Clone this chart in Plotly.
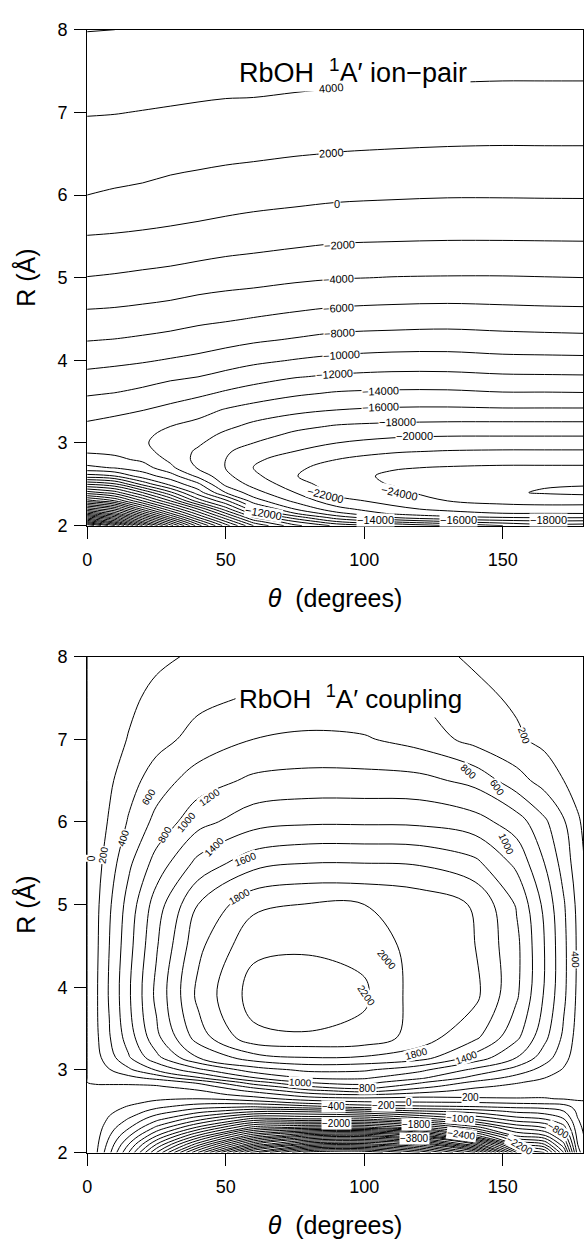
import numpy as np
import plotly.graph_objects as go

# ---------------- top panel: RbOH 1A' ion-pair potential (cm-1) ----------------
theta_top = [0, 10, 20, 30, 40, 50, 60, 75, 90, 110, 130, 150, 165, 180]
r_top = [2.0, 2.05, 2.1, 2.15, 2.2, 2.3, 2.4, 2.5, 2.6, 2.7, 2.8, 2.9, 3.0, 3.1,
         3.2, 3.4, 3.6, 3.8, 4.0, 4.25, 4.5, 5.0, 5.5, 6.0, 6.5, 7.0, 7.5, 8.0]

v_t0 = [56000, 48000, 41000, 34000, 28000, 17000, 9000, 2000, -5100, -9550, -11100, -12250, -12900, -12950,
        -12400, -11100, -9800, -8550, -7350, -5900, -4600, -2050, -50, 2000, 3050, 4100, 5050, 6050]
v_t10 = [48000, 41000, 35000, 29000, 24000, 14000, 7000, 500, -6000, -10100, -11500, -12500, -13100, -13200,
         -12900, -11450, -10050, -8800, -7550, -6050, -4700, -2200, -150, 1800, 3000, 4050, 5000, 6000]
v_t20 = [36000, 30000, 25000, 20000, 15500, 8000, 2000, -4500, -9000, -11000, -12400, -13400, -13800, -13700,
         -13300, -11950, -10500, -9150, -7800, -6300, -4900, -2400, -300, 1650, 2850, 3950, 4950, 5900]
v_t30 = [25000, 20500, 16000, 12000, 8500, 2000, -3500, -8500, -11000, -13500, -14400, -14800, -14700, -14400,
         -14000, -12550, -11100, -9650, -8150, -6600, -5150, -2600, -450, 1350, 2700, 3850, 4850, 5850]
v_t40 = [15000, 11500, 8000, 5000, 2000, -5000, -9000, -11500, -14500, -16200, -16600, -16300, -15700, -15200,
         -14600, -13300, -11600, -10000, -8500, -6950, -5550, -2900, -650, 1150, 2550, 3750, 4750, 5750]
v_t50 = [7000, 4000, 1000, -2000, -5000, -9500, -14000, -16500, -17500, -18050, -18000, -17700, -17200, -16400,
         -15600, -14150, -12300, -10600, -9050, -7300, -5800, -3150, -900, 950, 2400, 3650, 4700, 5700]
v_t60 = [0, -3000, -6000, -9000, -11200, -15000, -17200, -18600, -19500, -20050, -19700, -19000, -18000, -17200,
         -16500, -14800, -12900, -11200, -9550, -7700, -6100, -3300, -1100, 750, 2300, 3550, 4800, 6000]
v_t75 = [-5500, -8000, -11000, -14000, -16000, -18500, -20000, -21100, -21900, -21600, -20800, -20000, -19200, -18400,
         -17500, -15500, -13700, -11900, -10100, -8150, -6500, -3650, -1350, 550, 2100, 3400, 4650, 5900]
v_t90 = [-8500, -12000, -15000, -17500, -19300, -21400, -22500, -23100, -23300, -22900, -22000, -21000, -20000, -19000,
         -18200, -16000, -14200, -12300, -10500, -8600, -6850, -3900, -1600, 350, 1950, 3250, 4550, 5800]
v_t110 = [-10000, -14400, -18000, -20400, -21500, -22600, -23400, -24100, -24300, -23850, -22750, -21800, -20650, -19600,
          -18500, -16300, -14400, -12550, -10800, -8800, -7050, -4050, -1700, 220, 1850, 3150, 4400, 5650]
v_t130 = [-12000, -16000, -19500, -21300, -22500, -24000, -25000, -25250, -24900, -24150, -23150, -22100, -20900, -19800,
          -18650, -16350, -14400, -12550, -10800, -8900, -7150, -4100, -1770, 130, 1770, 3100, 4350, 5600]
v_t150 = [-14000, -17200, -20000, -22000, -22900, -24700, -25750, -25600, -25000, -24300, -23300, -22200, -21000, -19800,
          -18700, -16250, -14150, -12300, -10550, -8700, -7000, -4100, -1770, 130, 1740, 3050, 4300, 5550]
v_t165 = [-15200, -17600, -20200, -22050, -23000, -24950, -26150, -25850, -25100, -24300, -23300, -22200, -21000, -19800,
          -18700, -16250, -14150, -12250, -10500, -8600, -6900, -4050, -1750, 150, 1750, 3050, 4300, 5500]
v_t180 = [-15000, -17500, -20200, -22100, -23000, -24900, -26400, -25900, -25100, -24300, -23300, -22200, -21000, -19800,
          -18700, -16250, -14100, -12200, -10450, -8500, -6850, -4000, -1730, 160, 1750, 3050, 4300, 5500]

# ---------------- bottom panel: RbOH 1A' coupling (cm-1) ----------------
theta_bot = [0, 3, 8, 15, 25, 40, 60, 80, 100, 120, 140, 155, 165, 172, 177, 180]
r_bot = [2.0, 2.1, 2.2, 2.3, 2.4, 2.5, 2.55, 2.6, 2.65, 2.7, 2.75, 2.8, 2.85, 2.9,
         3.0, 3.15, 3.4, 3.9, 4.5, 5.0, 5.5, 6.0, 6.5, 7.0, 7.5, 8.0]

w_r200 = [0, -150, -550, -1200, -2200, -3600, -5500, -6500, -6600, -6000, -5000, -3000, -2600, -1600, -300, 0]
w_r210 = [0, -130, -470, -1000, -1800, -2900, -4400, -5200, -5300, -4900, -3800, -2200, -2000, -1250, -200, 20]
w_r220 = [0, -110, -390, -780, -1400, -2250, -3400, -4000, -4100, -3600, -2500, -1600, -1450, -950, -120, 40]
w_r230 = [0, -90, -310, -580, -1050, -1650, -2500, -2700, -2700, -2300, -1700, -1150, -1000, -680, -60, 60]
w_r240 = [0, -70, -230, -420, -750, -1150, -1700, -1650, -1650, -1350, -1000, -700, -620, -420, -10, 80]
w_r250 = [0, -50, -160, -280, -480, -720, -950, -950, -800, -620, -500, -350, -300, -200, 40, 100]
w_r255 = [0, -40, -125, -220, -360, -530, -620, -500, -330, -260, -220, -170, -150, -90, 70, 120]
w_r260 = [0, -30, -90, -160, -250, -350, -330, -160, -60, -30, -20, 20, 40, 60, 170, 180]
w_r265 = [0, -20, -60, -110, -170, -200, -80, 100, 150, 120, 180, 190, 190, 210, 220, 220]
w_r270 = [0, -15, -40, -70, -110, -90, 80, 320, 400, 320, 250, 240, 230, 230, 225, 220]
w_r275 = [0, -10, -25, -40, -60, -10, 260, 560, 700, 500, 340, 290, 260, 245, 235, 225]
w_r280 = [0, -3, -8, -15, -15, 80, 480, 800, 920, 680, 440, 350, 300, 270, 245, 230]
w_r285 = [0, 3, 10, 20, 60, 250, 720, 1020, 1080, 830, 560, 420, 340, 295, 255, 235]
w_r290 = [0, 20, 60, 130, 260, 560, 980, 1200, 1220, 1030, 720, 520, 400, 320, 260, 220]
w_r300 = [0, 70, 190, 360, 620, 950, 1300, 1450, 1430, 1250, 950, 720, 520, 380, 260, 190]
w_r315 = [0, 120, 315, 580, 945, 1400, 1720, 1800, 1780, 1700, 1330, 1000, 700, 470, 290, 200]
w_r340 = [0, 150, 385, 700, 1150, 1700, 2150, 2180, 2150, 1900, 1650, 1250, 860, 560, 320, 210]
w_r390 = [0, 160, 420, 770, 1250, 1850, 2290, 2330, 2230, 1900, 1850, 1430, 980, 640, 360, 230]
w_r450 = [0, 150, 400, 730, 1180, 1750, 2150, 2170, 2150, 1900, 1800, 1450, 1000, 650, 370, 240]
w_r500 = [0, 140, 370, 680, 1100, 1600, 1950, 2010, 2000, 1930, 1780, 1380, 950, 620, 350, 220]
w_r550 = [0, 110, 300, 560, 880, 1260, 1530, 1600, 1600, 1580, 1450, 1150, 800, 520, 290, 180]
w_r600 = [0, 80, 220, 420, 660, 930, 1120, 1170, 1170, 1160, 1080, 900, 640, 420, 230, 140]
w_r650 = [0, 60, 165, 320, 500, 700, 840, 870, 870, 860, 740, 480, 320, 200, 110, 70]
w_r700 = [0, 45, 120, 210, 330, 470, 600, 640, 620, 520, 330, 230, 150, 95, 55, 35]
w_r750 = [0, 30, 85, 160, 250, 350, 420, 450, 440, 390, 250, 170, 110, 70, 40, 25]
w_r800 = [0, 20, 55, 100, 160, 230, 285, 300, 295, 270, 170, 110, 70, 45, 25, 15]

x_ticks = [0, 50, 100, 150]
y_ticks = [2, 3, 4, 5, 6, 7, 8]

# contour labels: (theta, R, text, angle)
top_labels = [
    (88, 7.29, "4000", -5), (88, 6.51, "2000", -4), (90, 5.89, "0", 0),
    (91, 5.40, "−2000", -3), (90.7, 4.98, "−4000", -3), (90.7, 4.63, "−6000", -3),
    (91, 4.33, "−8000", -3), (91.8, 4.06, "−10000", -3), (89.4, 3.83, "−12000", -3),
    (106, 3.63, "−14000", -2), (105.8, 3.44, "−16000", -2), (112, 3.26, "−18000", -1),
    (118, 3.08, "−20000", 0), (86, 2.37, "−22000", 14), (112.7, 2.40, "−24000", 12),
    (63.5, 2.155, "−12000", 10), (104, 2.07, "−14000", 0), (134, 2.07, "−16000", 0),
    (166.5, 2.07, "−18000", 0),
]
bot_labels = [
    (1.4, 5.56, "0", -90), (6, 5.6, "200", -82), (13, 5.8, "400", -72),
    (22, 6.3, "600", -58), (28, 5.85, "800", -60), (36, 6.0, "1000", -50),
    (44, 6.3, "1200", -35), (46, 5.7, "1400", -45), (57, 5.55, "1600", -22),
    (55, 5.1, "1800", -30), (108, 4.33, "2000", 50), (100.7, 3.9, "2200", 55),
    (119, 3.2, "1800", -15), (137, 3.15, "1400", -20), (77, 2.845, "1000", 3),
    (101, 2.77, "800", 0), (89, 2.556, "−400", 0), (107, 2.57, "−200", 0),
    (116, 2.61, "0", 0), (138.5, 2.67, "200", 0), (90, 2.35, "−2000", 0),
    (119, 2.34, "−1800", 0), (134.6, 2.41, "−1000", 5), (170, 2.27, "−800", 30),
    (118, 2.17, "−3800", 0), (135, 2.22, "−2400", 8), (156, 2.08, "−2200", 30),
    (157.5, 7.04, "200", 70), (148, 6.42, "600", 55), (137.5, 6.61, "800", 42),
    (151.4, 5.73, "1000", 65), (176, 4.33, "400", 88),
]

z_top = np.array([v_t0, v_t10, v_t20, v_t30, v_t40, v_t50, v_t60, v_t75, v_t90,
                  v_t110, v_t130, v_t150, v_t165, v_t180]).T
z_bot = np.array([w_r200, w_r210, w_r220, w_r230, w_r240, w_r250, w_r255, w_r260, w_r265,
                  w_r270, w_r275, w_r280, w_r285, w_r290, w_r300, w_r315, w_r340, w_r390,
                  w_r450, w_r500, w_r550, w_r600, w_r650, w_r700, w_r750, w_r800])

FONT = "Liberation Sans"
black = [[0, "black"], [1, "black"]]

fig = go.Figure()
fig.add_trace(go.Contour(
    x=theta_top, y=r_top, z=z_top, xaxis="x", yaxis="y",
    colorscale=black, showscale=False,
    contours=dict(start=-26000, end=100000, size=2000, coloring="lines", showlabels=False),
    line=dict(width=1, smoothing=1.0), hoverinfo="skip"))
fig.add_trace(go.Contour(
    x=theta_bot, y=r_bot, z=z_bot, xaxis="x2", yaxis="y2",
    colorscale=black, showscale=False,
    contours=dict(start=-10000, end=2400, size=200, coloring="lines", showlabels=False),
    line=dict(width=1, smoothing=1.0), hoverinfo="skip"))

W, H = 584, 1256
xdom = [83 / W, 1.0]
top_dom = [1 - 524 / H, 1 - 20 / H]
bot_dom = [1 - 1161 / H, 1 - 657 / H]
xmax = (W - 83) / 2.8

ax_common = dict(showline=True, linecolor="black", linewidth=1, mirror=True,
                 ticks="outside", ticklen=12, tickwidth=1, tickcolor="black",
                 showgrid=False, zeroline=False,
                 tickfont=dict(size=18, color="black", family=FONT))
xt = dict(ax_common, range=[0, xmax], tickvals=x_ticks, domain=xdom, ticklabelstandoff=6,
          title=dict(text="<i>θ</i>  (degrees)", font=dict(size=25, color="black", family=FONT), standoff=20))
yt = dict(ax_common, range=[2, 8], tickvals=y_ticks, ticklabelstandoff=3,
          title=dict(text="R (Å)", font=dict(size=25, color="black", family=FONT), standoff=14))

annots = [
    dict(x=96, y=7.5, xref="x", yref="y", text="RbOH  <sup>1</sup>A′ ion−pair",
         showarrow=False, font=dict(size=27, color="black", family=FONT),
         bgcolor="white", borderpad=3),
    dict(x=95, y=7.5, xref="x2", yref="y2", text="RbOH  <sup>1</sup>A′ coupling",
         showarrow=False, font=dict(size=26, color="black", family=FONT),
         bgcolor="white", borderpad=3),
]
for (tx, ty, txt, ang) in top_labels:
    annots.append(dict(x=tx, y=ty, xref="x", yref="y", text=txt, textangle=ang,
                       showarrow=False, font=dict(size=11, color="black", family=FONT),
                       bgcolor="white", borderpad=0))
for (tx, ty, txt, ang) in bot_labels:
    annots.append(dict(x=tx, y=ty, xref="x2", yref="y2", text=txt, textangle=ang,
                       showarrow=False, font=dict(size=10, color="black", family=FONT),
                       bgcolor="white", borderpad=0))

fig.update_layout(
    width=W, height=H, margin=dict(l=0, r=0, t=0, b=0),
    paper_bgcolor="white", plot_bgcolor="white", showlegend=False,
    xaxis=dict(xt, anchor="y"), yaxis=dict(yt, domain=top_dom, anchor="x"),
    xaxis2=dict(xt, anchor="y2"), yaxis2=dict(yt, domain=bot_dom, anchor="x2"),
    annotations=annots,
)

fig.write_html("out.html")
